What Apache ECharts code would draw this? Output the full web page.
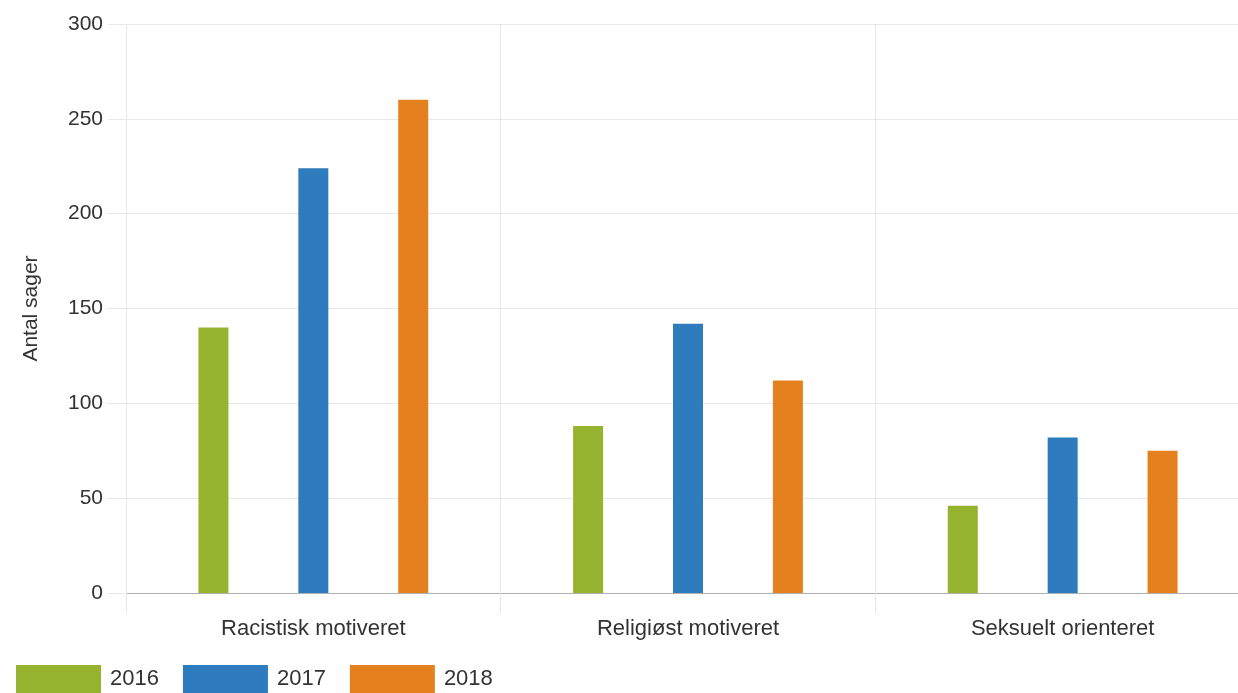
<!DOCTYPE html>
<html>
<head>
<meta charset="utf-8">
<script src="https://cdn.jsdelivr.net/npm/echarts@6/dist/echarts.min.js"></script>
<style>
html,body{margin:0;padding:0;background:#fff;overflow:hidden;}
#chart{width:1250px;height:693px;}
</style>
</head>
<body>
<div id="chart"></div>
<script>
const categories = ['Racistisk motiveret', 'Religiøst motiveret', 'Seksuelt orienteret'];
const seriesNames = ['2016', '2017', '2018'];
const values2016 = [140, 88, 46];
const values2017 = [224, 142, 82];
const values2018 = [260, 112, 75];
const yTicks = { min: 0, max: 300, interval: 50 };
const colors = ['#96b330', '#2e7bbd', '#e5801f'];

const chart = echarts.init(document.getElementById('chart'), null, { renderer: 'canvas' });
const font = 'Liberation Sans, Arial, sans-serif';
const gridColor = '#e8e8e8';
const textColor = '#333';
const dataSets = [values2016, values2017, values2018];

chart.setOption({
  animation: false,
  color: colors,
  textStyle: { fontFamily: font },
  grid: { left: 126, top: 24, width: 1124, height: 569, containLabel: false },
  legend: {
    left: 16, top: 665, padding: 0,
    itemWidth: 85, itemHeight: 28, itemGap: 24,
    icon: 'rect',
    textStyle: { fontSize: 22, color: textColor, fontFamily: font, padding: [0, 0, 0, 4] },
    data: seriesNames
  },
  xAxis: {
    type: 'category',
    data: categories,
    boundaryGap: true,
    axisLine: { show: true, lineStyle: { color: '#b0b0b0', width: 1 } },
    axisTick: { show: true, length: 20, lineStyle: { color: gridColor } },
    splitLine: { show: true, lineStyle: { color: gridColor } },
    axisLabel: { color: textColor, fontSize: 22, margin: 25, fontFamily: font }
  },
  yAxis: {
    type: 'value',
    min: yTicks.min, max: yTicks.max, interval: yTicks.interval,
    name: 'Antal sager',
    nameLocation: 'middle',
    nameGap: 84,
    nameRotate: 90,
    nameTextStyle: { color: textColor, fontSize: 21, fontFamily: font },
    axisLine: { show: true, lineStyle: { color: gridColor } },
    axisTick: { show: true, length: 18, lineStyle: { color: gridColor } },
    splitLine: { show: true, lineStyle: { color: gridColor } },
    axisLabel: { color: textColor, fontSize: 21, margin: 23, fontFamily: font }
  },
  series: seriesNames.map((n, i) => ({
    name: n,
    type: 'bar',
    data: dataSets[i],
    barWidth: 30,
    barGap: '233%',
    itemStyle: { color: colors[i] }
  }))
});
</script>
</body>
</html>
